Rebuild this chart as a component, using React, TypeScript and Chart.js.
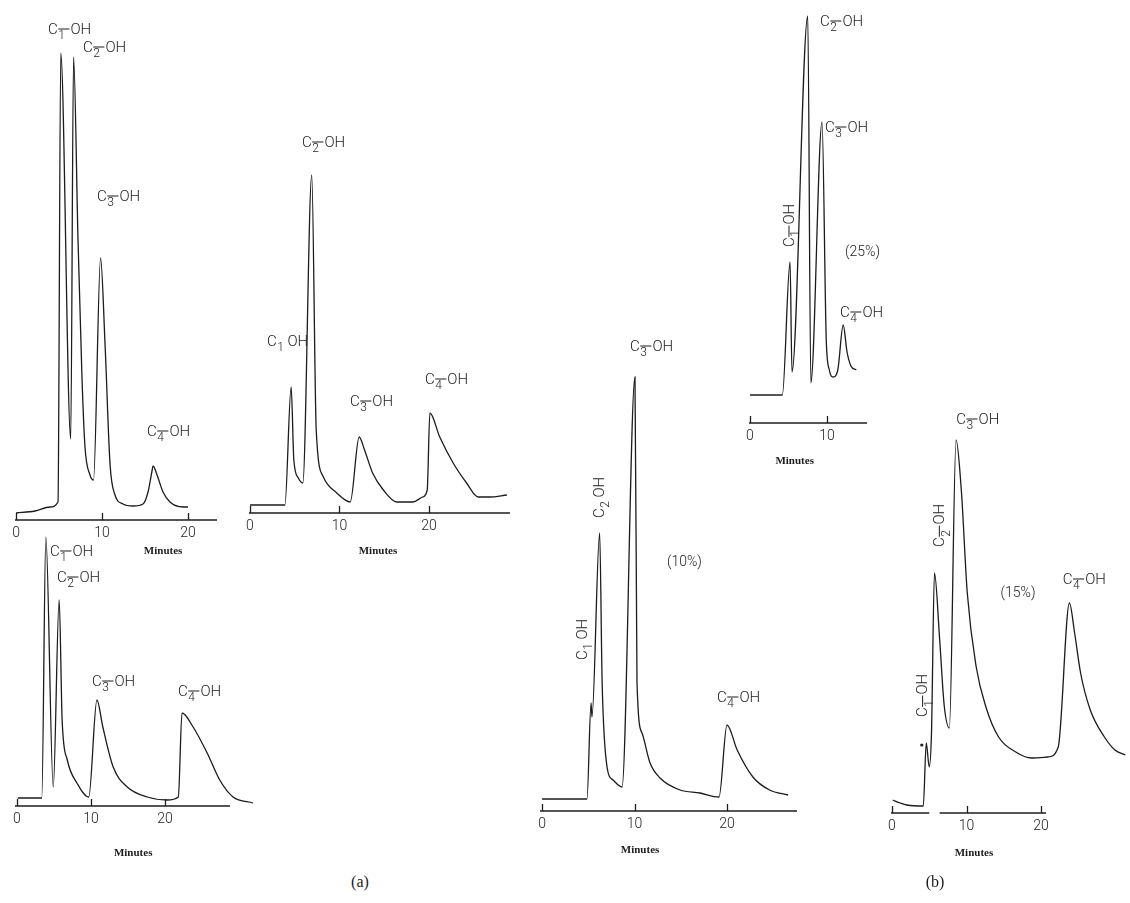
import React, { useEffect, useRef } from 'react';
import { Chart, registerables } from 'chart.js';

Chart.register(...registerables);

const INK = '#1c1c1c';
const SANS = 'Roboto, "Liberation Sans", sans-serif';
const SERIF = '"Liberation Serif", "Times New Roman", serif';

// ---------- data (time in minutes, detector response in arbitrary units) ----------
// (a) top-left
const A1_TIME = [0, 2.2, 3.95, 4.88, 5.2, 6.36, 6.69, 7.21, 7.67, 8.02, 8.6, 9.01, 9.83, 10.35, 10.93, 11.51, 12.44, 13.6, 14.77, 15.35, 15.81, 15.93, 16.4, 17.09, 17.9, 19.42, 20.0];
const A1_SIGNAL = [7, 9, 13, 18, 467, 81, 463, 279, 142, 73, 45, 40, 262, 176, 56, 25, 16, 14, 16, 28, 49, 54, 45, 28, 18, 13, 13];
// (a) top-right
const A2_TIME = [0, 3.9, 4.6, 4.9, 5.4, 5.9, 6.9, 7.4, 8.2, 9.7, 11.2, 12.2, 12.8, 13.7, 14.9, 16.4, 18.2, 19.3, 19.8, 20.1, 21.2, 22.7, 24.2, 25.5, 26.8, 28.7];
const A2_SIGNAL = [8, 8, 126, 53, 35, 30, 338, 83, 36, 20, 11, 76, 63, 40, 23, 11, 11, 16, 23, 100, 76, 50, 30, 16, 16, 18];
// (a) bottom
const A3_TIME = [0.1, 3.35, 3.9, 4.9, 5.7, 6.1, 6.8, 8.1, 9.7, 10.8, 11.6, 13.0, 14.9, 17.6, 20.3, 21.8, 22.3, 23.8, 25.7, 27.4, 29.2, 31.9];
const A3_SIGNAL = [8, 8, 269, 19, 206, 86, 46, 23, 9, 106, 79, 39, 19, 9, 6, 9, 93, 79, 53, 26, 9, 3];
// (b) 10 %
const B1_TIME = [0, 4.86, 5.3, 5.4, 6.23, 6.5, 7.03, 7.68, 8.65, 10.05, 10.27, 10.81, 11.68, 12.76, 14.92, 17.08, 19.14, 20.0, 21.1, 22.8, 24.6, 26.6];
const B1_SIGNAL = [12, 12, 108, 94, 278, 128, 44, 31, 24, 434, 128, 78, 48, 33, 21, 18, 14, 86, 61, 34, 21, 16];
// (b) 25 %
const B2_TIME = [0, 4.2, 5.2, 5.45, 7.5, 7.9, 9.35, 9.9, 10.3, 10.8, 11.4, 12.1, 12.6, 13.1, 13.8];
const B2_SIGNAL = [28, 28, 161, 51, 407, 40, 301, 83, 53, 46, 53, 98, 71, 57, 53];
// (b) 15 %
const B3_TIME = [0.1, 1.1, 2.0, 4.2, 4.6, 5.0, 5.3, 5.7, 6.4, 7.0, 7.7, 8.6, 9.3, 10.1, 11.3, 12.6, 14.3, 16.6, 18.7, 20.9, 22.3, 23.8, 24.5, 25.3, 26.6, 28.5, 29.9, 31.3];
const B3_SIGNAL = [13, 10, 8, 7, 70, 46, 80, 240, 173, 108, 85, 373, 323, 220, 146, 106, 76, 61, 55, 56, 66, 210, 180, 140, 103, 76, 63, 58];
const B3_DOT_TIME = [4.0];
const B3_DOT_SIGNAL = [68];

const TICKS_20 = [0, 10, 20];
const TICKS_10 = [0, 10];

type ChemLabel = { n: number; dash: boolean; t: number; y: number; vertical?: boolean };
type Note = { text: string; t: number; y: number };

const A1_LABELS: ChemLabel[] = [
  { n: 1, dash: true, t: 3.72, y: 490 },
  { n: 2, dash: true, t: 7.79, y: 472 },
  { n: 3, dash: true, t: 9.42, y: 323 },
  { n: 4, dash: true, t: 15.23, y: 88 },
];
const A2_LABELS: ChemLabel[] = [
  { n: 2, dash: true, t: 5.81, y: 370 },
  { n: 1, dash: false, t: 1.9, y: 171 },
  { n: 3, dash: true, t: 11.17, y: 111 },
  { n: 4, dash: true, t: 19.55, y: 133 },
];
const A3_LABELS: ChemLabel[] = [
  { n: 1, dash: true, t: 4.46, y: 254 },
  { n: 2, dash: true, t: 5.41, y: 228 },
  { n: 3, dash: true, t: 10.14, y: 124 },
  { n: 4, dash: true, t: 21.76, y: 114 },
];
const B1_LABELS: ChemLabel[] = [
  { n: 3, dash: true, t: 9.51, y: 464 },
  { n: 2, dash: false, t: 6.27, y: 293, vertical: true },
  { n: 1, dash: false, t: 4.43, y: 151, vertical: true },
  { n: 4, dash: true, t: 18.92, y: 113 },
];
const B2_LABELS: ChemLabel[] = [
  { n: 2, dash: true, t: 9.09, y: 401 },
  { n: 3, dash: true, t: 9.74, y: 295 },
  { n: 1, dash: true, t: 5.19, y: 176, vertical: true },
  { n: 4, dash: true, t: 11.69, y: 110 },
];
const B3_LABELS: ChemLabel[] = [
  { n: 3, dash: true, t: 8.61, y: 393 },
  { n: 2, dash: true, t: 6.49, y: 266, vertical: true },
  { n: 1, dash: true, t: 4.24, y: 96, vertical: true },
  { n: 4, dash: true, t: 22.91, y: 233 },
];
const B1_NOTES: Note[] = [{ text: '(10%)', t: 13.51, y: 249 }];
const B2_NOTES: Note[] = [{ text: '(25%)', t: 12.34, y: 171 }];
const B3_NOTES: Note[] = [{ text: '(15%)', t: 14.57, y: 220 }];

// ---------- layout ----------
interface PanelSpec {
  key: string;
  time: number[];
  signal: number[];
  dotTime?: number[];
  dotSignal?: number[];
  labels: ChemLabel[];
  notes: Note[];
  ticks: number[];
  xMin: number;
  xMax: number;
  yMax: number;
  axisSegments: [number, number][];
  titleAt: number;
  titleOffset: number;
  box: { left: number; top: number; width: number; height: number };
  pad: { left: number; right: number; top: number };
  axisH: number;
}

const PANELS: PanelSpec[] = [
  {
    key: 'a1', time: A1_TIME, signal: A1_SIGNAL, labels: A1_LABELS, notes: [], ticks: TICKS_20,
    xMin: -0.12, xMax: 23.37, yMax: 500, axisSegments: [[-0.12, 23.37]], titleAt: 17.1, titleOffset: 31,
    box: { left: 0, top: 10, width: 240, height: 555 }, pad: { left: 15, right: 23, top: 10 }, axisH: 45,
  },
  {
    key: 'a2', time: A2_TIME, signal: A2_SIGNAL, labels: A2_LABELS, notes: [], ticks: TICKS_20,
    xMin: -0.11, xMax: 29.05, yMax: 383, axisSegments: [[-0.11, 29.05]], titleAt: 14.3, titleOffset: 38,
    box: { left: 235, top: 120, width: 285, height: 438 }, pad: { left: 14, right: 10, top: 10 }, axisH: 45,
  },
  {
    key: 'a3', time: A3_TIME, signal: A3_SIGNAL, labels: A3_LABELS, notes: [], ticks: TICKS_20,
    xMin: -0.27, xMax: 32.03, yMax: 276, axisSegments: [[-0.27, 28.78]], titleAt: 15.7, titleOffset: 47,
    box: { left: 0, top: 520, width: 265, height: 346 }, pad: { left: 15, right: 11, top: 10 }, axisH: 60,
  },
  {
    key: 'b1', time: B1_TIME, signal: B1_SIGNAL, labels: B1_LABELS, notes: B1_NOTES, ticks: TICKS_20,
    xMin: -0.22, xMax: 27.57, yMax: 451, axisSegments: [[-0.22, 27.57]], titleAt: 10.6, titleOffset: 39,
    box: { left: 525, top: 330, width: 285, height: 531 }, pad: { left: 15, right: 13, top: 30 }, axisH: 50,
  },
  {
    key: 'b2', time: B2_TIME, signal: B2_SIGNAL, labels: B2_LABELS, notes: B2_NOTES, ticks: TICKS_10,
    xMin: -0.13, xMax: 15.19, yMax: 413, axisSegments: [[-0.13, 15.19]], titleAt: 5.8, titleOffset: 38,
    box: { left: 735, top: 0, width: 160, height: 468 }, pad: { left: 14, right: 28, top: 10 }, axisH: 45,
  },
  {
    key: 'b3', time: B3_TIME, signal: B3_SIGNAL, dotTime: B3_DOT_TIME, dotSignal: B3_DOT_SIGNAL,
    labels: B3_LABELS, notes: B3_NOTES, ticks: TICKS_20,
    xMin: -0.13, xMax: 31.39, yMax: 403, axisSegments: [[-0.13, 5.0], [6.4, 20.66]], titleAt: 11.0, titleOffset: 40,
    box: { left: 877, top: 400, width: 253, height: 463 }, pad: { left: 14, right: 1, top: 10 }, axisH: 50,
  },
];

function drawChem(ctx: CanvasRenderingContext2D, x: number, y: number, lab: ChemLabel) {
  const size = 15;
  ctx.save();
  ctx.translate(x, y);
  if (lab.vertical) ctx.rotate(-Math.PI / 2);
  ctx.fillStyle = INK;
  ctx.strokeStyle = INK;
  ctx.textBaseline = 'middle';
  ctx.textAlign = 'left';
  ctx.font = `300 ${size}px ${SANS}`;
  ctx.fillText('C', 0, 0);
  const wc = ctx.measureText('C').width;
  const sub = String(lab.n);
  ctx.font = `300 ${Math.round(size * 0.8)}px ${SANS}`;
  ctx.fillText(sub, wc + 0.5, size * 0.42);
  const ws = ctx.measureText(sub).width;
  let xo: number;
  if (lab.dash) {
    ctx.lineWidth = 1;
    ctx.beginPath();
    ctx.moveTo(wc + 0.5, -1);
    ctx.lineTo(wc + ws + 5, -1);
    ctx.stroke();
    xo = wc + ws + 6;
  } else {
    xo = wc + ws + 4;
  }
  ctx.font = `300 ${size}px ${SANS}`;
  ctx.fillText('OH', xo, 0);
  ctx.restore();
}

function overlayPlugin(p: PanelSpec) {
  return {
    id: 'overlay-' + p.key,
    afterDraw(chart: any) {
      const ctx: CanvasRenderingContext2D = chart.ctx;
      const xs = chart.scales.x;
      const ys = chart.scales.y;
      const ay = ys.getPixelForValue(0);
      ctx.save();
      ctx.strokeStyle = INK;
      ctx.lineWidth = 1.3;
      for (const [a, b] of p.axisSegments) {
        ctx.beginPath();
        ctx.moveTo(xs.getPixelForValue(a), ay);
        ctx.lineTo(xs.getPixelForValue(b), ay);
        ctx.stroke();
      }
      for (const v of p.ticks) {
        const x = Math.round(xs.getPixelForValue(v)) + 0.5;
        ctx.beginPath();
        ctx.moveTo(x, ay);
        ctx.lineTo(x, ay - 7);
        ctx.stroke();
      }
      ctx.fillStyle = INK;
      ctx.font = `bold 11px ${SERIF}`;
      ctx.textAlign = 'center';
      ctx.textBaseline = 'middle';
      ctx.fillText('Minutes', xs.getPixelForValue(p.titleAt), ay + p.titleOffset);
      for (const lab of p.labels) {
        drawChem(ctx, xs.getPixelForValue(lab.t), ys.getPixelForValue(lab.y), lab);
      }
      ctx.font = `300 14px ${SANS}`;
      ctx.textAlign = 'left';
      for (const n of p.notes) {
        ctx.fillText(n.text, xs.getPixelForValue(n.t), ys.getPixelForValue(n.y));
      }
      ctx.restore();
    },
  };
}

function Chromatogram({ p }: { p: PanelSpec }) {
  const ref = useRef<HTMLCanvasElement>(null);
  useEffect(() => {
    const canvas = ref.current;
    if (!canvas) return;
    const datasets: any[] = [
      {
        data: p.time.map((t, i) => ({ x: t, y: p.signal[i] })),
        borderColor: INK,
        borderWidth: 1.3,
        pointRadius: 0,
        cubicInterpolationMode: 'monotone',
        fill: false,
        clip: false,
      },
    ];
    if (p.dotTime && p.dotSignal) {
      datasets.push({
        data: p.dotTime.map((t, i) => ({ x: t, y: p.dotSignal![i] })),
        showLine: false,
        pointRadius: 1.6,
        pointBackgroundColor: INK,
        pointBorderWidth: 0,
        borderColor: INK,
        clip: false,
      });
    }
    const chart = new Chart(canvas, {
      type: 'line',
      data: { datasets },
      options: {
        responsive: false,
        animation: false,
        events: [],
        layout: { padding: { left: p.pad.left, right: p.pad.right, top: p.pad.top, bottom: 0 } },
        plugins: { legend: { display: false }, tooltip: { enabled: false } },
        scales: {
          x: {
            type: 'linear',
            min: p.xMin,
            max: p.xMax,
            afterBuildTicks: (s: any) => {
              s.ticks = p.ticks.map((v) => ({ value: v }));
            },
            afterFit: (s: any) => {
              s.height = p.axisH;
            },
            grid: { display: false, drawTicks: false },
            border: { display: false },
            ticks: {
              autoSkip: false,
              maxRotation: 0,
              padding: 5,
              color: INK,
              font: { family: SANS, size: 14, weight: '300' },
              callback: (v: any) => String(v),
            },
          },
          y: { display: false, min: 0, max: p.yMax },
        },
      } as any,
      plugins: [overlayPlugin(p)],
    });
    return () => chart.destroy();
  }, [p]);
  return (
    <canvas
      ref={ref}
      width={p.box.width}
      height={p.box.height}
      style={{ position: 'absolute', left: p.box.left, top: p.box.top, width: p.box.width, height: p.box.height }}
    />
  );
}

export default function App() {
  return (
    <div style={{ position: 'absolute', left: 0, top: 0, width: 1130, height: 903, background: '#fff', overflow: 'hidden' }}>
      {PANELS.map((p) => (
        <Chromatogram key={p.key} p={p} />
      ))}
      <div style={{ position: 'absolute', left: 360, top: 882, transform: 'translate(-50%, -50%)', fontFamily: SERIF, fontSize: 16, color: INK }}>(a)</div>
      <div style={{ position: 'absolute', left: 935, top: 882, transform: 'translate(-50%, -50%)', fontFamily: SERIF, fontSize: 16, color: INK }}>(b)</div>
    </div>
  );
}
